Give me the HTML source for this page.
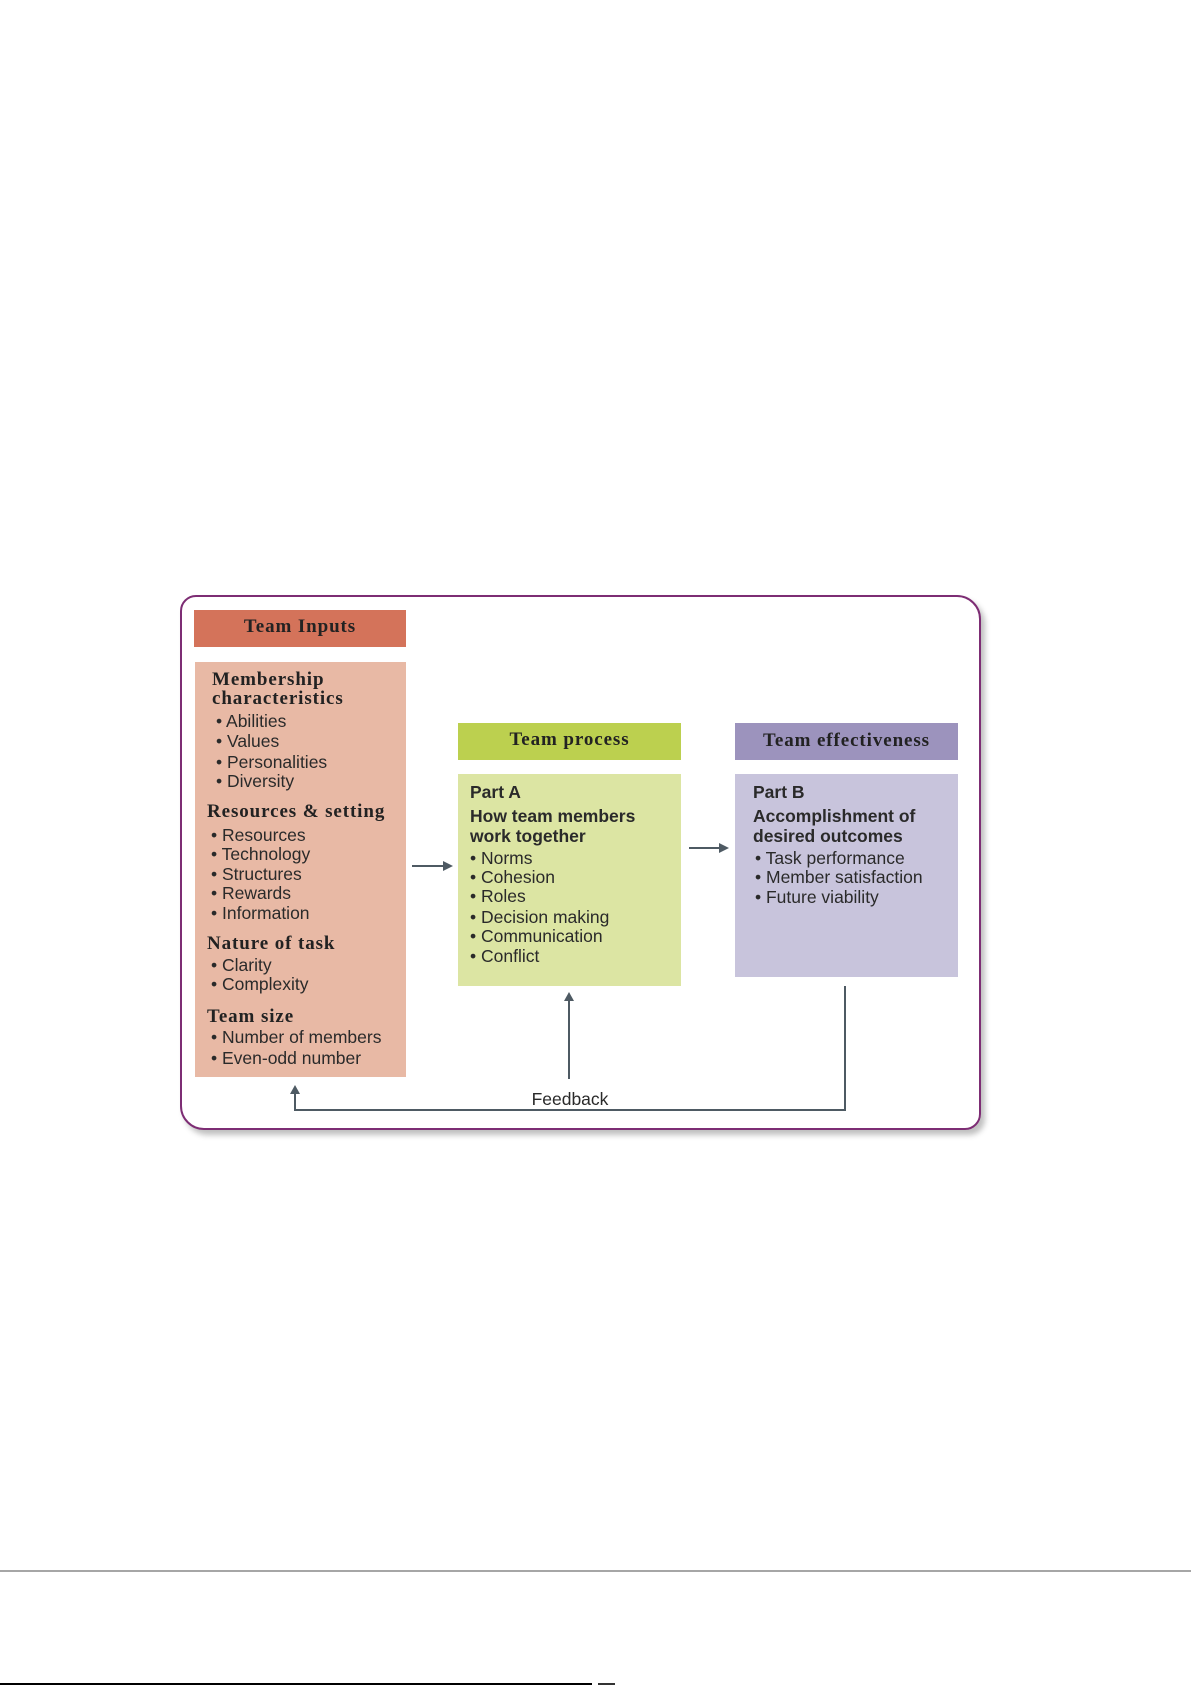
<!DOCTYPE html>
<html><head><meta charset="utf-8"><style>
body{margin:0;width:1191px;height:1685px;background:#fff;position:relative;overflow:hidden;font-family:"Liberation Sans",sans-serif;}
.a{position:absolute;}
.t{position:absolute;line-height:20px;font-size:17.5px;color:#2a2a2a;white-space:nowrap;}
.h{font-family:"Liberation Serif",serif;font-weight:bold;font-size:19px;letter-spacing:0.9px;color:#222;}
.b{font-weight:bold;}
</style></head><body>
<div class="a" style="left:180px;top:595px;width:801px;height:535px;border:2.5px solid #7d2d74;border-radius:16px 24px 16px 24px;box-shadow:4px 5px 6px rgba(0,0,0,0.25);box-sizing:border-box;"></div>

<div class="a" style="left:194px;top:610px;width:212px;height:37px;background:#d4735a;"></div>
<div class="t h" style="left:194px;width:212px;text-align:center;top:617px;">Team Inputs</div>
<div class="a" style="left:195px;top:662px;width:211px;height:415px;background:#e8b9a5;"></div>

<div class="a" style="left:458px;top:723px;width:223px;height:37px;background:#bcd04f;"></div>
<div class="t h" style="left:458px;width:223px;text-align:center;top:730px;">Team process</div>
<div class="a" style="left:458px;top:774px;width:223px;height:212px;background:#dce5a3;"></div>

<div class="a" style="left:735px;top:723px;width:223px;height:37px;background:#9c93bd;"></div>
<div class="t h" style="left:735px;width:223px;text-align:center;top:731px;">Team effectiveness</div>
<div class="a" style="left:735px;top:774px;width:223px;height:203px;background:#c8c4dc;"></div>

<div class="t h" style="left:212px;top:670px;">Membership</div>
<div class="t h" style="left:212px;top:689px;">characteristics</div>
<div class="t" style="left:216px;top:711px;">• Abilities</div>
<div class="t" style="left:216px;top:731px;">• Values</div>
<div class="t" style="left:216px;top:752px;">• Personalities</div>
<div class="t" style="left:216px;top:771px;">• Diversity</div>
<div class="t h" style="left:207px;top:802px;">Resources &amp; setting</div>
<div class="t" style="left:211px;top:825px;">• Resources</div>
<div class="t" style="left:211px;top:844px;">• Technology</div>
<div class="t" style="left:211px;top:864px;">• Structures</div>
<div class="t" style="left:211px;top:883px;">• Rewards</div>
<div class="t" style="left:211px;top:903px;">• Information</div>
<div class="t h" style="left:207px;top:934px;">Nature of task</div>
<div class="t" style="left:211px;top:955px;">• Clarity</div>
<div class="t" style="left:211px;top:974px;">• Complexity</div>
<div class="t h" style="left:207px;top:1007px;">Team size</div>
<div class="t" style="left:211px;top:1027px;">• Number of members</div>
<div class="t" style="left:211px;top:1048px;">• Even-odd number</div>

<div class="t b" style="left:470px;top:782px;">Part A</div>
<div class="t b" style="left:470px;top:806px;">How team members</div>
<div class="t b" style="left:470px;top:826px;">work together</div>
<div class="t" style="left:470px;top:848px;">• Norms</div>
<div class="t" style="left:470px;top:867px;">• Cohesion</div>
<div class="t" style="left:470px;top:886px;">• Roles</div>
<div class="t" style="left:470px;top:907px;">• Decision making</div>
<div class="t" style="left:470px;top:926px;">• Communication</div>
<div class="t" style="left:470px;top:946px;">• Conflict</div>

<div class="t b" style="left:753px;top:782px;">Part B</div>
<div class="t b" style="left:753px;top:806px;">Accomplishment of</div>
<div class="t b" style="left:753px;top:826px;">desired outcomes</div>
<div class="t" style="left:755px;top:848px;">• Task performance</div>
<div class="t" style="left:755px;top:867px;">• Member satisfaction</div>
<div class="t" style="left:755px;top:887px;">• Future viability</div>

<svg class="a" style="left:0;top:0" width="1191" height="1685">
<g stroke="#4e5a63" stroke-width="2" fill="none">
<line x1="412" y1="866" x2="446" y2="866"/>
<line x1="689" y1="848" x2="722" y2="848"/>
<line x1="569" y1="1079" x2="569" y2="999"/>
<polyline points="845,986 845,1110 295,1110 295,1092"/>
</g>
<g fill="#4e5a63">
<polygon points="453,866 443,861 443,871"/>
<polygon points="729,848 719,843 719,853"/>
<polygon points="569,992 564,1001 574,1001"/>
<polygon points="295,1085 290,1094 300,1094"/>
</g>
<text x="570" y="1105" font-family="Liberation Sans" font-size="17.5" fill="#2a2a2a" text-anchor="middle">Feedback</text>
<line x1="0" y1="1571" x2="1191" y2="1571" stroke="#888" stroke-width="1.5"/>
<line x1="0" y1="1684" x2="592" y2="1684" stroke="#000" stroke-width="2"/>
<line x1="598" y1="1684" x2="615" y2="1684" stroke="#333" stroke-width="2"/>
</svg>
</body></html>
